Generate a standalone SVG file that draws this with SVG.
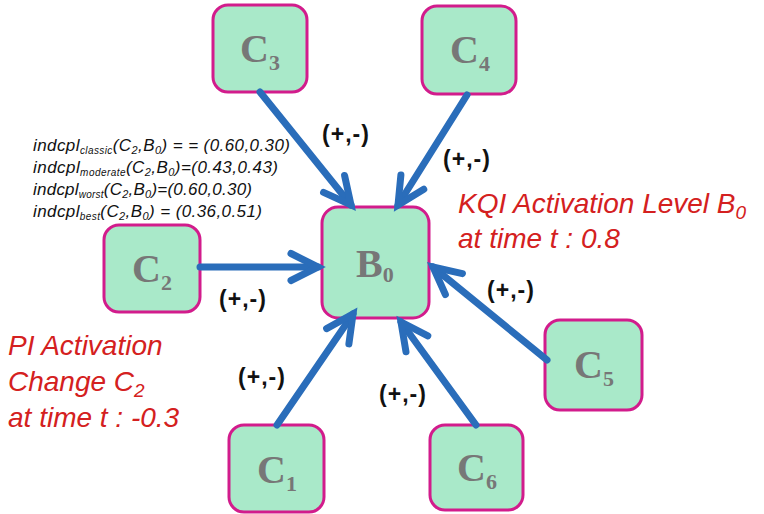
<svg xmlns="http://www.w3.org/2000/svg" width="764" height="514" viewBox="0 0 764 514">
<style>
.node rect{fill:#a9e9c9;stroke:#d21c8c;stroke-width:3}
.nl{font-family:"Liberation Serif",serif;font-weight:bold;fill:#777;font-size:40px}
.nl tspan.s{font-size:22px}
.edge{stroke:#2a6dba;stroke-width:7;fill:none;stroke-linecap:round}
.pm{font-family:"Liberation Sans",Arial,sans-serif;font-weight:bold;font-size:23px;letter-spacing:1px;fill:#111;text-anchor:middle}
.ind{font-family:"Liberation Sans",Arial,sans-serif;font-style:italic;font-size:17px;fill:#111}
.red{font-family:"Liberation Sans",Arial,sans-serif;font-style:italic;font-size:28px;fill:#d42020}
</style>
<defs>
<marker id="ah" markerUnits="userSpaceOnUse" viewBox="-40 -25 50 50" refX="0" refY="0" markerWidth="50" markerHeight="50" orient="auto">
<path d="M-27,-13.5 L0,0 L-27,13.5" fill="none" stroke="#2a6dba" stroke-width="7" stroke-linecap="round" stroke-linejoin="miter"/>
</marker>
</defs>
<rect width="764" height="514" fill="#fff"/>
<g id="C3" class="node"><rect x="213" y="5" width="94" height="87" rx="15"/><text class="nl" x="240" y="62">C<tspan class="s" dy="8">3</tspan></text></g>
<g id="C4" class="node"><rect x="422" y="6" width="94" height="88" rx="15"/><text class="nl" x="450" y="63">C<tspan class="s" dy="8">4</tspan></text></g>
<g id="B0" class="node"><rect x="322" y="207" width="107" height="111" rx="16"/><text class="nl" x="356" y="277" font-size="38">B<tspan class="s" dy="5">0</tspan></text></g>
<g id="C2" class="node"><rect x="104" y="225" width="96" height="87" rx="15"/><text class="nl" x="132" y="282">C<tspan class="s" dy="8">2</tspan></text></g>
<g id="C5" class="node"><rect x="545" y="320" width="97" height="90" rx="15"/><text class="nl" x="574" y="378">C<tspan class="s" dy="8">5</tspan></text></g>
<g id="C1" class="node"><rect x="229" y="425" width="95" height="87" rx="15"/><text class="nl" x="257" y="483">C<tspan class="s" dy="8">1</tspan></text></g>
<g id="C6" class="node"><rect x="430" y="425" width="93" height="85" rx="15"/><text class="nl" x="457" y="481">C<tspan class="s" dy="8">6</tspan></text></g>
<g id="connectors">
<line class="edge" x1="260" y1="92" x2="351" y2="205" marker-end="url(#ah)"/>
<line class="edge" x1="467" y1="95" x2="398" y2="205" marker-end="url(#ah)"/>
<line class="edge" x1="200" y1="267" x2="318" y2="267" marker-end="url(#ah)"/>
<line class="edge" x1="547" y1="360" x2="433" y2="267" marker-end="url(#ah)"/>
<line class="edge" x1="476" y1="425" x2="401" y2="322" marker-end="url(#ah)"/>
<line class="edge" x1="277" y1="425" x2="353" y2="314" marker-end="url(#ah)"/>
</g>
<g id="labels">
<text class="pm" x="346" y="142">(+,-)</text>
<text class="pm" x="467" y="167">(+,-)</text>
<text class="pm" x="243" y="307">(+,-)</text>
<text class="pm" x="511" y="298">(+,-)</text>
<text class="pm" x="262" y="385">(+,-)</text>
<text class="pm" x="403" y="402">(+,-)</text>
</g>
<g id="indcpl">
<text class="ind" x="33" y="151" textLength="257">indcpl<tspan font-size="10" dy="3">classic</tspan><tspan dy="-3">(C</tspan><tspan font-size="11" dy="3">2</tspan><tspan dy="-3">,B</tspan><tspan font-size="11" dy="3">0</tspan><tspan dy="-3">) = = (0.60,0.30)</tspan></text>
<text class="ind" x="33" y="173" textLength="245">indcpl<tspan font-size="10" dy="3">moderate</tspan><tspan dy="-3">(C</tspan><tspan font-size="11" dy="3">2</tspan><tspan dy="-3">,B</tspan><tspan font-size="11" dy="3">0</tspan><tspan dy="-3">)=(0.43,0.43)</tspan></text>
<text class="ind" x="33" y="195" textLength="219">indcpl<tspan font-size="10" dy="3">worst</tspan><tspan dy="-3">(C</tspan><tspan font-size="11" dy="3">2</tspan><tspan dy="-3">,B</tspan><tspan font-size="11" dy="3">0</tspan><tspan dy="-3">)=(0.60,0.30)</tspan></text>
<text class="ind" x="33" y="217" textLength="229">indcpl<tspan font-size="10" dy="3">best</tspan><tspan dy="-3">(C</tspan><tspan font-size="11" dy="3">2</tspan><tspan dy="-3">,B</tspan><tspan font-size="11" dy="3">0</tspan><tspan dy="-3">) = (0.36,0.51)</tspan></text>
</g>
<g id="kqi">
<text class="red" x="458" y="213">KQI Activation Level B<tspan font-size="19" dy="6">0</tspan></text>
<text class="red" x="458" y="248">at time t : 0.8</text>
</g>
<g id="pi">
<text class="red" x="8" y="355">PI Activation</text>
<text class="red" x="8" y="391">Change C<tspan font-size="19" dy="6">2</tspan></text>
<text class="red" x="8" y="427">at time t : -0.3</text>
</g>
</svg>
